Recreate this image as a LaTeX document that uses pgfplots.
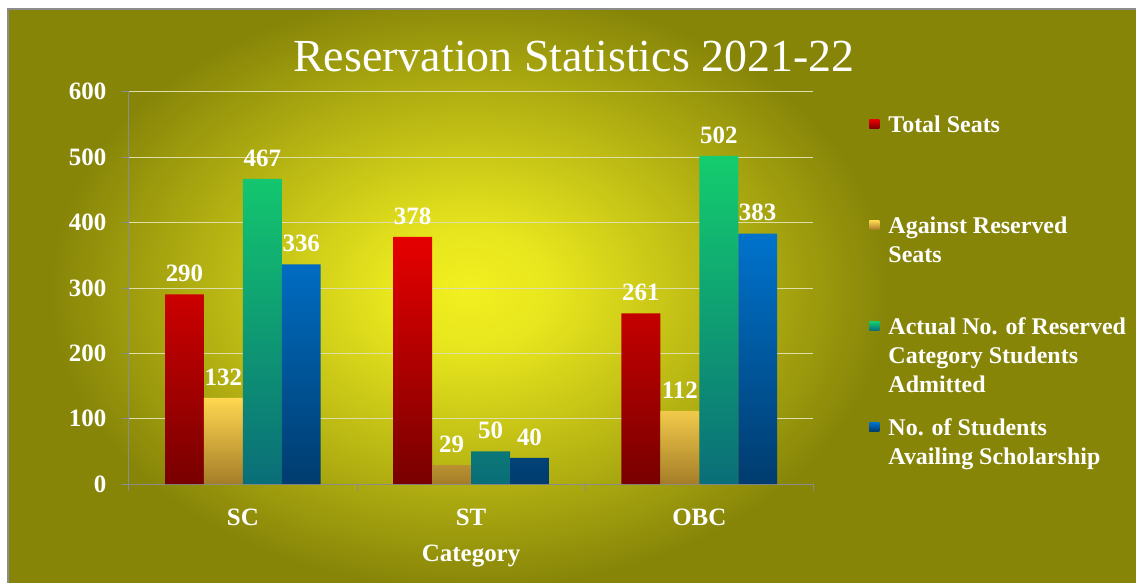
\documentclass[border=0pt]{standalone}
\usepackage{fontspec}
\setmainfont{Liberation Serif}
\usepackage{pgfplots}
\pgfplotsset{compat=1.18}

\definecolor{bgolive}{RGB}{135,133,8}
\definecolor{glow}{RGB}{242,240,32}
\definecolor{gridc}{RGB}{222,222,170}
\definecolor{axisc}{RGB}{140,140,140}
\definecolor{redA}{RGB}{230,0,0}
\definecolor{redB}{RGB}{120,0,0}
\definecolor{goldA}{RGB}{255,215,80}
\definecolor{goldB}{RGB}{165,125,40}
\definecolor{greenA}{RGB}{20,205,110}
\definecolor{greenB}{RGB}{10,110,120}
\definecolor{blueA}{RGB}{0,115,205}
\definecolor{blueB}{RGB}{0,60,110}

% the central 50bp square of a shading is mapped onto the path
\pgfdeclareradialshading{glowshade}{\pgfpoint{0bp}{0bp}}{%
  color(0bp)=(glow); color(5bp)=(glow!90!bgolive);
  color(14bp)=(glow!50!bgolive); color(25bp)=(bgolive); color(50bp)=(bgolive)}

\newcommand{\lbl}{\bfseries\fontsize{25bp}{30bp}\selectfont}
\newcommand{\legfont}{\bfseries\fontsize{24bp}{29bp}\selectfont}

\begin{document}
\begin{tikzpicture}[x=1bp,y=1bp]
  % chart area
  \fill[white] (0,0) rectangle (1138,584);
  \fill[bgolive] (8,0) rectangle (1138,575);
  \begin{scope}
    \clip (8,0) rectangle (1138,575);
    \shade[shading=glowshade] (470,294) ellipse [x radius=420bp, y radius=300bp];
  \end{scope}
  \draw[axisc, line width=1.5bp] (8,0) -- (8,575) -- (1138,575);
  \node[anchor=base, text=white, font=\fontsize{46bp}{55bp}\selectfont]
    at (575,512) {Reservation Statistics 2021-22};

  \begin{axis}[
    at={(129bp,99bp)}, anchor=south west,
    scale only axis, width=686bp, height=393bp,
    xmin=-0.5, xmax=2.5, ymin=0, ymax=600,
    ybar=0pt, bar width=39bp,
    xtick={0,1,2}, xticklabels={SC,ST,OBC},
    minor xtick={-0.5,0.5,1.5,2.5},
    ytick={0,100,...,600},
    ymajorgrids, grid style={gridc, line width=0.8bp},
    axis x line*=bottom, axis y line*=left,
    axis line style={-, axisc, line width=0.8bp},
    tick align=outside, tick style={axisc, line width=0.8bp},
    major tick length=7bp, minor tick length=7bp,
    major x tick style={draw=none},
    /pgf/number format/assume math mode=true,
    ticklabel style={text=white, font=\lbl},
    yticklabel style={xshift=-12bp},
    xticklabel style={anchor=base, yshift=-35bp},
    xlabel={Category},
    xlabel style={at={(axis description cs:0.5,-0.1985)}, anchor=base,
      text=white, font=\lbl},
    nodes near coords,
    every node near coord/.append style={text=white, font=\lbl, yshift=9bp},
  ]
    \addplot[draw=none, top color=redA, bottom color=redB]
      coordinates {(0,290) (1,378) (2,261)};
    \addplot[draw=none, top color=goldA, bottom color=goldB]
      coordinates {(0,132) (1,29) (2,112)};
    \addplot[draw=none, top color=greenA, bottom color=greenB]
      coordinates {(0,467) (1,50) (2,502)};
    \addplot[draw=none, top color=blueA, bottom color=blueB]
      coordinates {(0,336) (1,40) (2,383)};
  \end{axis}

  % legend (baselines of first lines at 133, 234, 335, 436 px from top)
  \foreach \y/\ca/\cb/\txt in {
      451/redA/redB/{Total Seats},
      350/goldA/goldB/{Against Reserved\\Seats},
      249/greenA/greenB/{Actual No. of Reserved\\Category Students\\Admitted},
      148/blueA/blueB/{No. of Students\\Availing Scholarship}} {
    \shade[top color=\ca, bottom color=\cb] (871,\y+4) rectangle (881,\y+13);
    \node[anchor=base west, inner sep=0pt, text=white, font=\legfont]
      at (890,\y) {\parbox[t]{250bp}{\raggedright\txt}};
  }
\end{tikzpicture}
\end{document}
